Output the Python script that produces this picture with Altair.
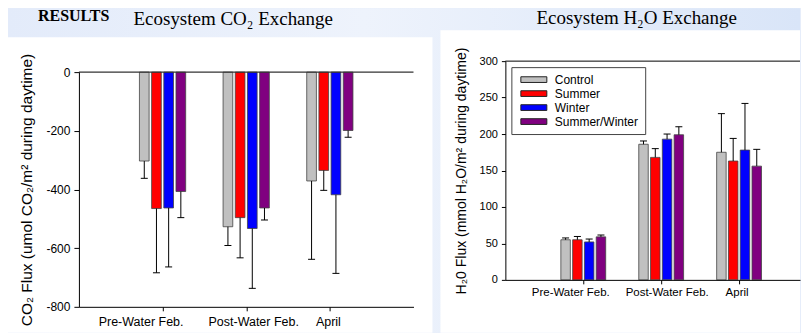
import altair as alt
import pandas as pd

# ---------------- data ----------------
categories = ["Pre-Water Feb.", "Post-Water Feb.", "April"]
series = ["Control", "Summer", "Winter", "Summer/Winter"]
colors = ["#c0c0c0", "#ff0000", "#0000ff", "#800080"]

co2_control = [-303, -527, -371]
co2_summer = [-465, -496, -335]
co2_winter = [-463, -533, -418]
co2_sw = [-407, -463, -199]
co2_control_err = [59, 64, 267]
co2_summer_err = [219, 137, 68]
co2_winter_err = [201, 204, 268]
co2_sw_err = [89, 41, 23]

h2o_control = [55, 186, 175]
h2o_summer = [55, 168, 163]
h2o_winter = [52, 193, 178]
h2o_sw = [59, 199, 156]
h2o_control_err = [2.5, 4.5, 53]
h2o_summer_err = [4.5, 12, 31]
h2o_winter_err = [4, 7, 64]
h2o_sw_err = [2.5, 11, 23]

co2_ticks = [0, -200, -400, -600, -800]
h2o_ticks = [0, 50, 100, 150, 200, 250, 300]

slide_heading = "RESULTS"
co2_title = "Ecosystem CO₂ Exchange"
h2o_title = "Ecosystem H₂O Exchange"

SANS = "Liberation Sans"
SERIF = "Liberation Serif"


def build(means, errs, sign, pitch, width, cap):
    rows = []
    for si, s in enumerate(series):
        for ci, c in enumerate(categories):
            center = ci + 1 + (si - 1.5) * pitch
            m = means[si][ci]
            e = errs[si][ci]
            rows.append(dict(series=s, category=c, center=center,
                             x0=center - width / 2, x1=center + width / 2,
                             mean=m, end=m + sign * e,
                             c0=center - cap, c1=center + cap))
    return pd.DataFrame(rows)


label_expr = "[''," + ",".join("'%s'" % c for c in categories) + "][datum.value]"


def label_shift(a, b, c):
    return {"condition": [{"test": "datum.value == 1", "value": a},
                          {"test": "datum.value == 2", "value": b}],
            "value": c}


BOTTOM = 272

# ---------------- left chart ----------------
LW, LH = 335, 246
lpx = LW / 4.0
co2_df = build([co2_control, co2_summer, co2_winter, co2_sw],
               [co2_control_err, co2_summer_err, co2_winter_err, co2_sw_err],
               -1, 12.2 / lpx, 9.7 / lpx, 3.5 / lpx)

lxscale = alt.Scale(domain=[0, 4], nice=False, zero=False)
lyscale = alt.Scale(domain=[-800, 0], range=[LH, 11], nice=False, zero=False)
lxaxis = alt.Axis(values=[1, 2, 3], labelExpr=label_expr, title=None, grid=False,
                  labelFont=SANS, labelFontSize=12.5, labelColor="black",
                  labelOffset=label_shift(-22, 7, -2), labelOverlap=False,
                  tickSize=4, labelPadding=5, domainColor="black", tickColor="black",
                  labelFlush=False, zindex=2)
lyaxis = alt.Axis(values=co2_ticks, labelExpr="'' + datum.value",
                  title="CO₂ Flux (umol CO₂/m² during daytime)", grid=False,
                  labelFont=SANS, labelFontSize=12, labelColor="black",
                  titleFont=SANS, titleFontSize=15.5, titleFontWeight="normal", titleColor="black",
                  titlePadding=11, tickSize=5, labelPadding=4,
                  domainColor="black", tickColor="black", zindex=2)

one = pd.DataFrame({"k": [0]})

bg = alt.Chart(one).mark_rect(
    color=alt.LinearGradient(gradient="linear",
                             stops=[alt.GradientStop(color="#e3ebfa", offset=0),
                                    alt.GradientStop(color="#eef3fc", offset=0.45),
                                    alt.GradientStop(color="#d9e5f8", offset=1)],
                             x1=0, x2=1, y1=0, y2=0)
).encode(x=alt.value(-71), x2=alt.value(722), y=alt.value(-53), y2=alt.value(BOTTOM))

white_l = alt.Chart(one).mark_rect(color="white").encode(
    x=alt.value(-71), x2=alt.value(354), y=alt.value(-24), y2=alt.value(BOTTOM))

results = alt.Chart(one).mark_text(text=slide_heading, font=SERIF, fontSize=16, fontWeight="bold",
                                   align="left", baseline="alphabetic", color="black").encode(
    x=alt.value(-41), y=alt.value(-40))

l_title = alt.Chart(one).mark_text(text=co2_title, font=SERIF, fontSize=19,
                                   align="center", baseline="alphabetic", color="black").encode(
    x=alt.value(154.5), y=alt.value(-36))

l_bars = alt.Chart(co2_df).mark_rect(stroke="#444", strokeWidth=0.8).encode(
    x=alt.X("x0:Q", scale=lxscale, axis=lxaxis),
    x2="x1:Q",
    y=alt.Y("mean:Q", scale=lyscale, axis=lyaxis),
    y2=alt.Y2(datum=0),
    color=alt.Color("series:N", scale=alt.Scale(domain=series, range=colors), legend=None),
)
l_err = alt.Chart(co2_df).mark_rule(color="black", strokeWidth=1).encode(
    x=alt.X("center:Q", scale=lxscale, axis=lxaxis),
    y=alt.Y("mean:Q", scale=lyscale, axis=lyaxis),
    y2="end:Q",
)
l_cap = alt.Chart(co2_df).mark_rule(color="black", strokeWidth=1).encode(
    x=alt.X("c0:Q", scale=lxscale, axis=lxaxis),
    x2="c1:Q",
    y=alt.Y("end:Q", scale=lyscale, axis=lyaxis),
)
l_zero = alt.Chart(one).mark_rule(color="#333", strokeWidth=1.5).encode(
    x=alt.X(datum=0, scale=lxscale, axis=lxaxis),
    x2=alt.X2(datum=4),
    y=alt.Y(datum=0, scale=lyscale, axis=lyaxis),
)

left = alt.layer(bg, white_l, results, l_title, l_bars, l_err, l_cap, l_zero).properties(
    width=LW, height=LH)

# ---------------- right chart ----------------
RW, RH = 295, 219
rpx = 78.0
rxmax = RW / rpx
h2o_df = build([h2o_control, h2o_summer, h2o_winter, h2o_sw],
               [h2o_control_err, h2o_summer_err, h2o_winter_err, h2o_sw_err],
               1, 11.8 / rpx, 9.5 / rpx, 3.5 / rpx)

rxscale = alt.Scale(domain=[0, rxmax], nice=False, zero=False)
ryscale = alt.Scale(domain=[0, 300], nice=False)
rxaxis = alt.Axis(values=[1, 2, 3], labelExpr=label_expr, title=None, grid=False,
                  labelFont=SANS, labelFontSize=11.5, labelColor="black",
                  labelOffset=label_shift(-13, 5.5, -2.5), labelOverlap=False,
                  tickSize=4, labelPadding=3, domainColor="black", tickColor="black",
                  labelFlush=False, zindex=2)
ryaxis = alt.Axis(values=h2o_ticks, title="H₂0 Flux (mmol H₂O/m² during daytime)", grid=False,
                  labelFont=SANS, labelFontSize=11, labelColor="black",
                  titleFont=SANS, titleFontSize=14, titleFontWeight="normal", titleColor="black",
                  titlePadding=11, tickSize=4, labelPadding=4,
                  domainColor="black", tickColor="black", zindex=2)

white_r = alt.Chart(one).mark_rect(color="white").encode(
    x=alt.value(-65), x2=alt.value(RW), y=alt.value(-31), y2=alt.value(BOTTOM))

r_title = alt.Chart(one).mark_text(text=h2o_title, font=SERIF, fontSize=19,
                                   align="center", baseline="alphabetic", color="black").encode(
    x=alt.value(131.5), y=alt.value(-37))

legend = alt.Legend(orient="none", legendX=6, legendY=6, title=None,
                    symbolType="M-1,-0.95H7.67V0.95H-1Z", symbolSize=36,
                    symbolStrokeColor="#222", symbolStrokeWidth=1, symbolOpacity=1,
                    labelOffset=25, labelFont=SANS, labelFontSize=12, labelColor="black",
                    padding=6.5, strokeColor="#444", fillColor="white", rowPadding=2, zindex=3)

r_bars = alt.Chart(h2o_df).mark_rect(stroke="#444", strokeWidth=0.8).encode(
    x=alt.X("x0:Q", scale=rxscale, axis=rxaxis),
    x2="x1:Q",
    y=alt.Y("mean:Q", scale=ryscale, axis=ryaxis),
    y2=alt.Y2(datum=0),
    color=alt.Color("series:N", scale=alt.Scale(domain=series, range=colors), legend=legend),
)
r_err = alt.Chart(h2o_df).mark_rule(color="black", strokeWidth=1).encode(
    x=alt.X("center:Q", scale=rxscale, axis=rxaxis),
    y=alt.Y("mean:Q", scale=ryscale, axis=ryaxis),
    y2="end:Q",
)
r_cap = alt.Chart(h2o_df).mark_rule(color="black", strokeWidth=1).encode(
    x=alt.X("c0:Q", scale=rxscale, axis=rxaxis),
    x2="c1:Q",
    y=alt.Y("end:Q", scale=ryscale, axis=ryaxis),
)
r_top = alt.Chart(one).mark_rule(color="black", strokeWidth=1).encode(
    x=alt.X(datum=0, scale=rxscale, axis=rxaxis),
    x2=alt.X2(datum=rxmax),
    y=alt.Y(datum=300, scale=ryscale, axis=ryaxis),
)

right = alt.layer(white_r, r_title, r_bars, r_err, r_cap, r_top).properties(
    width=RW, height=RH)

chart = alt.hconcat(left, right, spacing=92, bounds="flush").resolve_scale(
    x="independent", y="independent", color="independent"
).resolve_legend(color="independent").properties(padding=0).configure(
    background="#e6edfa"
).configure_view(stroke=None).configure_axis(zindex=2, domainWidth=1)

chart.save("out.html", embed_options={"renderer": "svg", "actions": False})
